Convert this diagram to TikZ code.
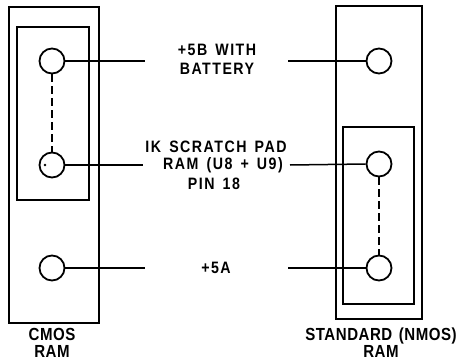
\documentclass[tikz,border=0pt]{standalone}
\usepackage{fontspec}
\setmainfont{Liberation Sans}
\newfontfamily\lblfont{Liberation Sans Bold}[FakeStretch=0.86,LetterSpace=9,WordSpace=1.5]
\newfontfamily\capfont{Liberation Sans Bold}[FakeStretch=0.86,LetterSpace=3,WordSpace=1.4]
\begin{document}
\begin{tikzpicture}[x=1pt,y=-1pt,
  outer/.style={draw,line width=2.6pt},
  inner/.style={draw,line width=1.9pt},
  pin/.style={circle,draw,line width=1.8pt,minimum size=25pt,inner sep=0pt},
  wire/.style={line width=1.5pt},
  jump/.style={line width=1.7pt,dash pattern=on 8pt off 4pt},
  lbl/.style={font=\lblfont\fontsize{16.5}{19}\selectfont,inner sep=0pt,align=center},
  caption/.style={font=\capfont\fontsize{17.5}{17}\selectfont,inner sep=0pt,align=center}]
\useasboundingbox (0,0) rectangle (459,362);
% left module
\draw[outer] (9,7) rectangle (99,323);
\draw[inner] (17,27) rectangle (89,200);
\node[pin] (l1) at (52,61) {};
\node[pin] (l2) at (52,165) {};
\node[pin] (l3) at (52,268) {};
\fill (45,165) circle (1.4pt);
\draw[jump] (l1.south) -- (l2.north);
% right module
\draw[outer] (336,6) rectangle (422,319);
\draw[inner] (343,127) rectangle (414,304);
\node[pin] (r1) at (379,61) {};
\node[pin] (r2) at (379,164) {};
\node[pin] (r3) at (379,268) {};
\draw[jump] (r2.south) -- (r3.north);
% labels
\node[lbl] (t1) at (217,59) {+5B WITH\\BATTERY};
\node[lbl] (t2a) at (216,147) {IK SCRATCH PAD};
\node[lbl] (t2) at (223,165) {RAM (U8 + U9)};
\node[lbl] (t2b) at (214,184) {PIN 18};
\node[lbl] (t3) at (216,268) {+5A};
\node[caption] (cl) at (52,343) {CMOS\\RAM};
\node[caption] (cr) at (381,343) {STANDARD (NMOS)\\RAM};
% wire ends
\coordinate (a1) at (145,61);
\coordinate (b1) at (288,61);
\coordinate (a2) at (143,165);
\coordinate (b2) at (290,165);
\coordinate (a3) at (145,268);
\coordinate (b3) at (288,268);
\draw[wire] (l1.east) -- (a1);
\draw[wire] (b1) -- (r1.west);
\draw[wire] (l2.east) -- (a2);
\draw[wire] (b2) -- (r2.west);
\draw[wire] (l3.east) -- (a3);
\draw[wire] (b3) -- (r3.west);
\end{tikzpicture}
\end{document}
